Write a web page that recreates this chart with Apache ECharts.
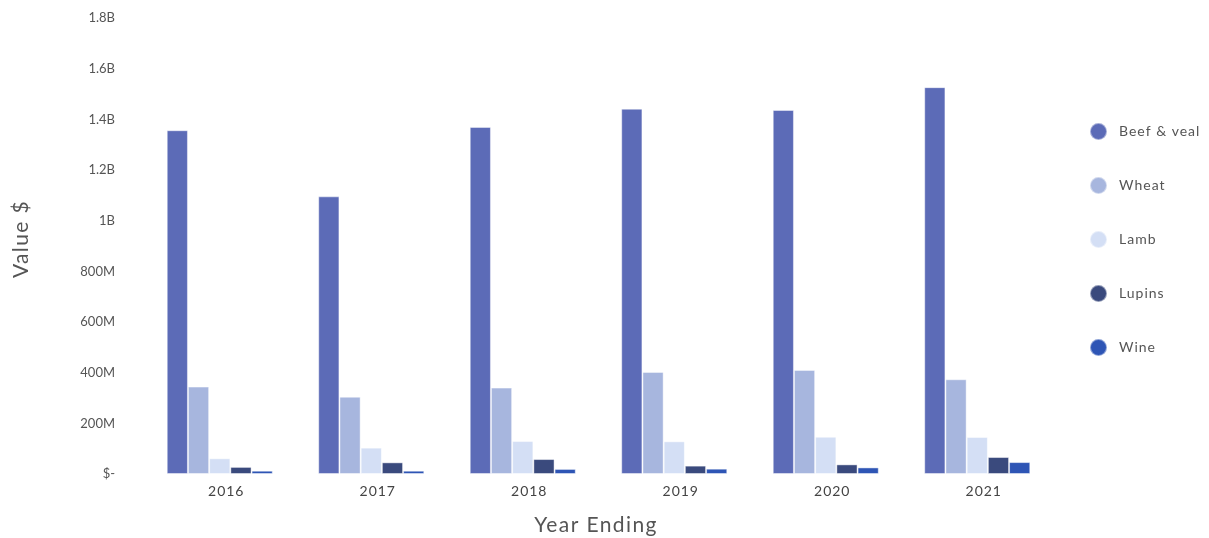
<!DOCTYPE html>
<html>
<head>
<meta charset="utf-8">
<script src="https://cdn.jsdelivr.net/npm/echarts@6/dist/echarts.min.js"></script>
<style>html,body{margin:0;padding:0;background:#fff}#c{width:1209px;height:538px}</style>
</head>
<body>
<div id="c"></div>
<script>
const categories = ['2016', '2017', '2018', '2019', '2020', '2021'];
const seriesNames = ['Beef & veal', 'Wheat', 'Lamb', 'Lupins', 'Wine'];
const beefVeal = [1357e6, 1096e6, 1370e6, 1442e6, 1437e6, 1527e6];
const wheat = [345e6, 305e6, 341e6, 403e6, 411e6, 374e6];
const lamb = [62e6, 104e6, 130e6, 129e6, 147e6, 146e6];
const lupins = [28e6, 46e6, 59e6, 33e6, 38e6, 67e6];
const wine = [13e6, 13e6, 20e6, 21e6, 26e6, 47e6];
const colors = ['#5c6bb7', '#a7b6de', '#d4dff5', '#3a4a7d', '#2e55b5'];

// letter spacing per font size (the reference uses tracked text)
(function () {
  const proto = CanvasRenderingContext2D.prototype;
  const orig = proto.fillText;
  proto.fillText = function (t, x, y, w) {
    const m = /(\d+(?:\.\d+)?)px/.exec(this.font);
    const size = m ? +m[1] : 12;
    const sp = size >= 20 ? '1.4px' : (size === 14 ? '1px' : '0px');
    if ('letterSpacing' in this) this.letterSpacing = sp;
    return w === undefined ? orig.call(this, t, x, y) : orig.call(this, t, x, y, w);
  };
})();

const allData = [beefVeal, wheat, lamb, lupins, wine];
const chart = echarts.init(document.getElementById('c'));
const font = 'Lato, "Open Sans", sans-serif';
function fmt(v) {
  if (v === 0) return '$-';
  if (v >= 1e9) return (Math.round(v / 1e8) / 10) + 'B';
  return Math.round(v / 1e6) + 'M';
}
chart.setOption({
  animation: false,
  textStyle: { fontFamily: font },
  grid: { left: 144, right: 156, top: 18, bottom: 64, outerBoundsMode: 'none', containLabel: false },
  legend: {
    orient: 'vertical',
    left: 1084,
    top: 117,
    itemGap: 35,
    icon: 'circle',
    itemWidth: 17,
    itemHeight: 17,
    textStyle: { fontFamily: font, fontSize: 14, color: '#555', padding: [0, 0, 0, 7] },
    data: seriesNames
  },
  xAxis: {
    type: 'category',
    data: categories,
    name: 'Year Ending',
    nameLocation: 'middle',
    nameGap: 41,
    nameTextStyle: { fontFamily: font, fontSize: 21, color: '#555', padding: [0, 5, 0, 0] },
    axisLine: { show: false },
    axisTick: { show: false },
    axisLabel: { fontFamily: font, fontSize: 14, color: '#444', margin: 10, padding: [0, 0, 0, 13] }
  },
  yAxis: {
    type: 'value',
    min: 0,
    max: 1800000000,
    interval: 200000000,
    name: 'Value $',
    nameLocation: 'middle',
    nameGap: 112,
    nameTextStyle: { fontFamily: font, fontSize: 21, color: '#555', padding: [0, 0, 0, 14] },
    axisLine: { show: false },
    axisTick: { show: false },
    splitLine: { show: false },
    axisLabel: { fontFamily: font, fontSize: 13, color: '#555', margin: 29, formatter: fmt }
  },
  series: seriesNames.map((n, i) => ({
    name: n,
    type: 'bar',
    data: allData[i],
    barGap: '0%',
    barCategoryGap: '30%',
    itemStyle: { color: colors[i], borderColor: 'rgba(255,255,255,0.45)', borderWidth: 1 }
  }))
});
</script>
</body>
</html>
